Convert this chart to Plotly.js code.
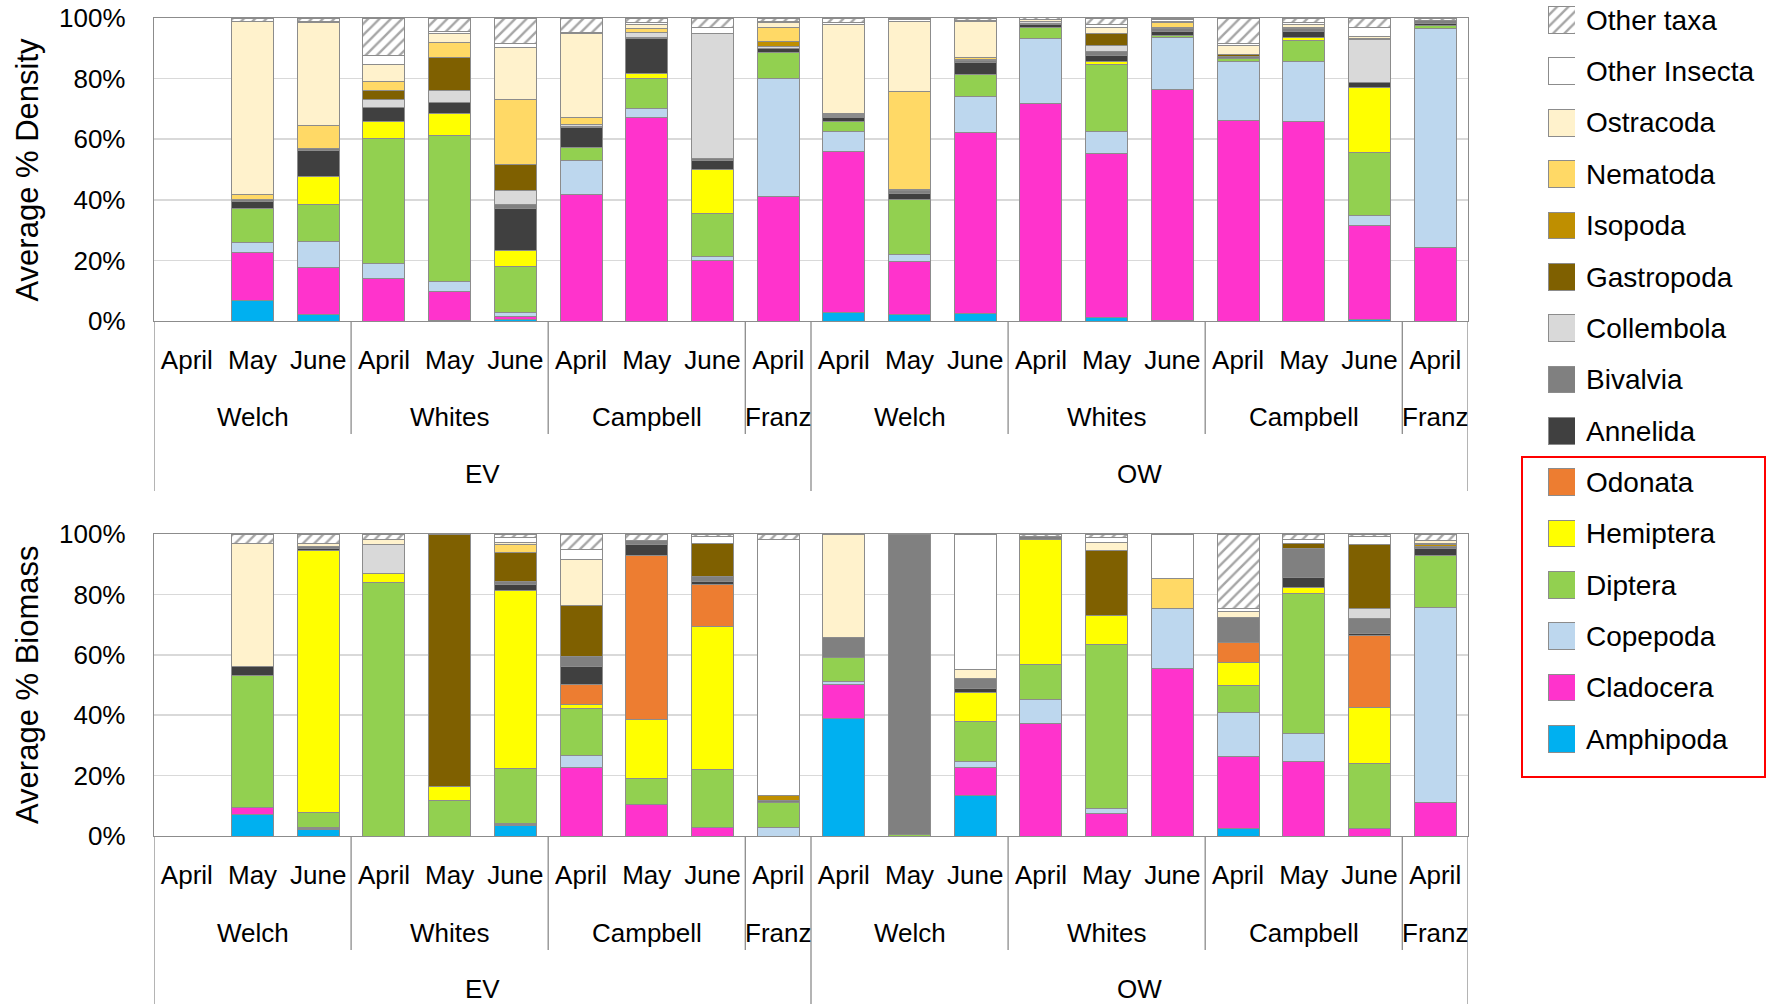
<!DOCTYPE html>
<html>
<head>
<meta charset="utf-8">
<script src="https://cdn.plot.ly/plotly-3.0.1.min.js"></script>
<style>
  html, body { margin: 0; padding: 0; background: #ffffff; }
  #chart { width: 1773px; height: 1004px; }
</style>
</head>
<body>
<div id="chart"></div>
<script>
// ---- categories ----------------------------------------------------------
const months = ['April', 'May', 'June', 'April', 'May', 'June', 'April', 'May', 'June', 'April',
                'April', 'May', 'June', 'April', 'May', 'June', 'April', 'May', 'June', 'April'];
const sites = ['Welch', 'Whites', 'Campbell', 'Franz', 'Welch', 'Whites', 'Campbell', 'Franz'];
const siteSpans = [3, 3, 3, 1, 3, 3, 3, 1];
const regions = ['EV', 'OW'];
const regionSpans = [10, 10];

// stacking order, bottom to top
const taxa = ['Amphipoda', 'Cladocera', 'Copepoda', 'Diptera', 'Hemiptera', 'Odonata', 'Annelida',
              'Bivalvia', 'Collembola', 'Gastropoda', 'Isopoda', 'Nematoda', 'Ostracoda',
              'Other Insecta', 'Other taxa'];
const taxaColors = ['#00B0F0', '#FF33CC', '#BDD7EE', '#92D050', '#FFFF00', '#ED7D31', '#404040',
                    '#808080', '#D9D9D9', '#7F6000', '#BF8F00', '#FFD966', '#FFF2CC',
                    '#FFFFFF', '#FFFFFF'];

// ---- average % density -----------------------------------------------------
const densityAmphipoda    = [0, 6.7, 2.0, 0, 0.3, 0.5, 0, 0, 0, 0,   2.7, 2.0, 2.5, 0, 1.2, 0.3, 0, 0, 0.5, 0];
const densityCladocera    = [0, 15.9, 15.7, 14.1, 9.5, 0.9, 41.9, 67.1, 19.9, 41.0,   53.1, 17.5, 59.6, 71.8, 54.1, 76.2, 66.3, 65.9, 31.1, 24.3];
const densityCopepoda     = [0, 3.2, 8.6, 4.8, 3.4, 1.5, 11.1, 3.0, 1.4, 39.1,   6.6, 2.6, 12.1, 21.4, 7.4, 17.0, 19.5, 19.8, 3.1, 72.4];
const densityDiptera      = [0, 11.3, 12.3, 41.4, 48.0, 15.2, 4.4, 10.0, 14.1, 8.4,   3.5, 18.0, 7.0, 3.6, 21.9, 0.6, 0.7, 6.9, 20.9, 0.9];
const densityHemiptera    = [0, 0, 9.2, 5.7, 7.3, 5.1, 0, 1.5, 14.6, 0,   0, 0, 0, 0, 1.2, 0, 0, 1.1, 21.3, 0];
const densityOdonata      = [0, 0, 0, 0, 0, 0, 0, 0, 0, 0,   0, 0, 0, 0, 0, 0, 0, 0, 0, 0];
const densityAnnelida     = [0, 2.5, 8.6, 4.4, 3.6, 13.9, 6.3, 11.6, 3.0, 1.6,   1.2, 2.0, 4.1, 1.0, 1.9, 1.5, 0.3, 1.9, 1.7, 0.6];
const densityBivalvia     = [0, 0.5, 0.4, 0, 0, 1.5, 0.5, 0.5, 0.5, 0,   0.5, 1.0, 0.7, 0.5, 1.3, 1.0, 0.6, 0.8, 0, 1.0];
const densityCollembola   = [0, 0, 0, 2.8, 3.9, 4.6, 0.5, 1.6, 41.4, 0.5,   0.3, 0, 0, 0.4, 2.0, 0.4, 0, 0, 14.4, 0];
const densityGastropoda   = [0, 0, 0, 2.8, 11.1, 8.6, 0, 0, 0, 0,   0.4, 0.4, 0.4, 0.3, 3.8, 0, 0.5, 0.3, 0.4, 0];
const densityIsopoda      = [0, 0, 0, 0, 0, 0, 0, 0, 0, 1.5,   0, 0, 0, 0, 0, 0, 0, 0, 0, 0];
const densityNematoda     = [0, 1.7, 7.8, 3.0, 4.8, 21.4, 2.4, 1.3, 0, 4.8,   0.3, 32.1, 0.7, 0, 0, 1.6, 0, 0.3, 0, 0];
const densityOstracoda    = [0, 57.2, 33.8, 5.6, 2.9, 17.0, 27.8, 1.1, 0, 1.5,   29.3, 23.4, 11.9, 0.4, 2.2, 0.4, 3.0, 1.0, 0.5, 0];
const densityOtherInsecta = [0, 0, 0.3, 3.0, 0.9, 1.3, 0.3, 0.8, 1.9, 0.6,   0.5, 0.5, 0.2, 0.2, 0.9, 0.4, 0.6, 0.5, 3.0, 0];
const densityOtherTaxa    = [0, 1.0, 1.3, 12.4, 4.3, 8.5, 4.8, 1.5, 3.2, 1.0,   1.6, 0.5, 0.8, 0.5, 2.1, 0.6, 8.5, 1.5, 3.1, 0.8];

// ---- average % biomass -----------------------------------------------------
const biomassAmphipoda    = [0, 7.2, 2.0, 0, 0, 3.4, 0, 0, 0, 0,   39.0, 0, 13.4, 0, 0, 0, 2.4, 0, 0, 0];
const biomassCladocera    = [0, 2.2, 0.5, 0, 0, 0.3, 22.7, 10.5, 2.9, 0,   11.2, 0, 9.4, 37.3, 7.5, 55.5, 23.8, 24.8, 2.5, 11.1];
const biomassCopepoda     = [0, 0, 0.4, 0, 0, 0.3, 3.9, 0, 0, 2.9,   1.1, 0, 2.0, 8.0, 1.7, 19.8, 14.7, 9.2, 0, 64.7];
const biomassDiptera      = [0, 43.9, 4.9, 84.0, 11.6, 18.4, 15.6, 8.4, 19.2, 8.2,   7.8, 0.5, 13.1, 11.5, 54.3, 0, 8.8, 46.2, 21.5, 17.2];
const biomassHemiptera    = [0, 0, 86.7, 3.0, 4.7, 58.8, 1.2, 19.7, 47.2, 0,   0, 0, 9.6, 41.5, 9.5, 0, 7.9, 2.0, 18.5, 0];
const biomassOdonata      = [0, 0, 0, 0, 0, 0, 6.7, 54.4, 14.0, 0,   0, 0, 0, 0, 0, 0, 6.6, 0, 23.8, 0];
const biomassAnnelida     = [0, 2.8, 0.8, 0, 0, 2.1, 5.9, 3.6, 0.9, 0,   0, 0, 1.4, 0, 0, 0, 0, 3.3, 0.8, 2.3];
const biomassBivalvia     = [0, 0, 0.4, 0, 0, 0.9, 3.6, 1.1, 1.7, 0.7,   6.6, 99.5, 3.3, 1.0, 0, 0, 8.2, 9.8, 4.8, 0.7];
const biomassCollembola   = [0, 0, 0, 9.6, 0, 0, 0, 0, 0, 0,   0, 0, 0, 0, 0, 0, 0, 0, 3.3, 0];
const biomassGastropoda   = [0, 0, 0, 0, 83.4, 9.6, 16.7, 0, 11.0, 0,   0, 0, 0, 0, 21.4, 0, 0, 1.5, 21.4, 0];
const biomassIsopoda      = [0, 0, 0, 0, 0, 0, 0, 0, 0, 1.5,   0, 0, 0, 0, 0, 0, 0, 0, 0, 0.5];
const biomassNematoda     = [0, 0, 0, 0, 0, 2.6, 0, 0, 0, 0,   0, 0, 0, 0, 0, 10.0, 0, 0, 0, 0.3];
const biomassOstracoda    = [0, 40.7, 1.0, 1.6, 0, 0.8, 15.3, 0, 0, 0,   34.3, 0, 3.0, 0, 2.7, 0, 1.9, 0, 0, 1.0];
const biomassOtherInsecta = [0, 0, 0, 0, 0, 1.6, 3.3, 0, 2.2, 85.0,   0, 0, 44.8, 0, 1.8, 14.7, 0.9, 1.5, 2.5, 0];
const biomassOtherTaxa    = [0, 3.2, 3.3, 1.8, 0.3, 1.2, 5.1, 2.3, 0.9, 1.7,   0, 0, 0, 0.7, 1.1, 0, 24.8, 1.7, 0.9, 2.2];

const densitySeries = [densityAmphipoda, densityCladocera, densityCopepoda, densityDiptera,
  densityHemiptera, densityOdonata, densityAnnelida, densityBivalvia, densityCollembola,
  densityGastropoda, densityIsopoda, densityNematoda, densityOstracoda, densityOtherInsecta,
  densityOtherTaxa];
const biomassSeries = [biomassAmphipoda, biomassCladocera, biomassCopepoda, biomassDiptera,
  biomassHemiptera, biomassOdonata, biomassAnnelida, biomassBivalvia, biomassCollembola,
  biomassGastropoda, biomassIsopoda, biomassNematoda, biomassOstracoda, biomassOtherInsecta,
  biomassOtherTaxa];

// ---- page geometry (pixels -> paper fractions) ------------------------------
const W = 1773, H = 1004;
const px = v => v / W;
const py = v => 1 - v / H;

const FONT = 'Liberation Sans, Arial, Helvetica, sans-serif';
const EDGE = '#8c8c8c';
const xDomain = [px(154), px(1468)];
const panels = [
  { series: densitySeries, title: 'Average % Density', top: 18, bottom: 321,
    siteY: 417, regionY: 474, siteLineEnd: 434, regionLineEnd: 491, xa: 'x', ya: 'y' },
  { series: biomassSeries, title: 'Average % Biomass', top: 534, bottom: 836,
    siteY: 933, regionY: 989, siteLineEnd: 950, regionLineEnd: 1004, xa: 'x2', ya: 'y2' }
];

const idx = months.map((m, i) => i);

function markerFor(i) {
  const m = { color: taxaColors[i], line: { color: EDGE, width: 1 } };
  if (taxa[i] === 'Other taxa') {
    m.pattern = { shape: '/', bgcolor: '#ffffff', fgcolor: '#a6a6a6', size: 8, solidity: 0.3 };
  }
  return m;
}

const traces = [];
panels.forEach(p => {
  p.series.forEach((vals, i) => {
    traces.push({
      type: 'bar', name: taxa[i], x: idx,
      y: vals.map(v => (v > 0 ? v : null)),
      xaxis: p.xa, yaxis: p.ya,
      marker: markerFor(i), showlegend: false,
      hovertemplate: '%{y:.1f}%<extra>' + taxa[i] + '</extra>'
    });
  });
});

// key: one square per taxon on its own small axis pair
taxa.forEach((t, i) => {
  traces.push({
    type: 'bar', orientation: 'h', x: [1], y: [i], base: 0, width: 0.52,
    xaxis: 'x3', yaxis: 'y3', marker: markerFor(i), showlegend: false, hoverinfo: 'skip'
  });
});

// boundaries and label centres along the category axis
function groups(spans) {
  const out = [];
  let start = 0;
  spans.forEach(s => { out.push({ lo: start - 0.5, hi: start + s - 0.5, mid: start + (s - 1) / 2 }); start += s; });
  return out;
}
const siteGroups = groups(siteSpans);
const regionGroups = groups(regionSpans);

const shapes = [];
const annotations = [];
panels.forEach(p => {
  const regionEdges = new Set();
  regionGroups.forEach(g => { regionEdges.add(g.lo); regionEdges.add(g.hi); });
  const siteEdges = new Set();
  siteGroups.forEach(g => { siteEdges.add(g.lo); siteEdges.add(g.hi); });
  siteEdges.forEach(e => {
    const end = regionEdges.has(e) ? p.regionLineEnd : p.siteLineEnd;
    shapes.push({ type: 'line', xref: p.xa, yref: 'paper', x0: e, x1: e,
      y0: py(p.bottom), y1: py(end), line: { color: EDGE, width: 1.3 } });
  });
  siteGroups.forEach((g, k) => annotations.push({
    xref: p.xa, yref: 'paper', x: g.mid, y: py(p.siteY), text: sites[k], showarrow: false,
    xanchor: 'center', yanchor: 'middle', font: { family: FONT, size: 26, color: '#000' } }));
  regionGroups.forEach((g, k) => annotations.push({
    xref: p.xa, yref: 'paper', x: g.mid, y: py(p.regionY), text: regions[k], showarrow: false,
    xanchor: 'center', yanchor: 'middle', font: { family: FONT, size: 26, color: '#000' } }));
  annotations.push({
    xref: 'paper', yref: 'paper', x: px(27), y: py((p.top + p.bottom) / 2), text: p.title,
    textangle: -90, showarrow: false, xanchor: 'center', yanchor: 'middle',
    font: { family: FONT, size: 31, color: '#000' } });
});

// red frame around the lower part of the key
shapes.push({ type: 'rect', xref: 'paper', yref: 'paper', x0: px(1522), x1: px(1765),
  y0: py(777), y1: py(457), line: { color: '#ff0000', width: 2 }, fillcolor: 'rgba(0,0,0,0)' });

function xAxis(anchor, p) {
  return {
    domain: xDomain, anchor: anchor, range: [-0.5, months.length - 0.5],
    tickmode: 'array', tickvals: idx, ticktext: months, ticks: '',
    tickfont: { family: FONT, size: 26, color: '#000' }, ticklabelstandoff: 15,
    showline: true, mirror: true, linecolor: EDGE, linewidth: 1.3,
    showgrid: false, zeroline: false, fixedrange: true
  };
}
function yAxis(anchor, p) {
  return {
    domain: [py(p.bottom), py(p.top)], anchor: anchor, range: [0, 100],
    tickmode: 'linear', tick0: 0, dtick: 20, ticksuffix: '%', ticks: '',
    tickfont: { family: FONT, size: 26, color: '#000' }, ticklabelstandoff: 22,
    showgrid: true, gridcolor: '#d9d9d9', gridwidth: 1.5,
    showline: true, mirror: true, linecolor: EDGE, linewidth: 1.3,
    zeroline: false, fixedrange: true
  };
}

// key axes: 1 row = 51.36 px, Amphipoda row centred at y = 739 px
const rowPx = 51.36;
const keyBottom = 739 + 0.5 * rowPx;
const keyTop = 739 - 14.3 * rowPx;

const layout = {
  width: W, height: H,
  margin: { l: 0, r: 0, t: 0, b: 0, pad: 0 },
  paper_bgcolor: '#ffffff', plot_bgcolor: '#ffffff',
  font: { family: FONT, color: '#000' },
  barmode: 'stack', bargap: 0.36,
  showlegend: false,
  xaxis: xAxis('y', panels[0]),
  yaxis: yAxis('x', panels[0]),
  xaxis2: xAxis('y2', panels[1]),
  yaxis2: yAxis('x2', panels[1]),
  xaxis3: { domain: [px(1548), px(1575)], anchor: 'y3', range: [0, 1], visible: false, fixedrange: true },
  yaxis3: {
    domain: [py(keyBottom), py(keyTop)], anchor: 'x3', range: [-0.5, 14.3], side: 'right',
    tickmode: 'array', tickvals: taxa.map((t, i) => i), ticktext: taxa, ticks: '',
    tickfont: { family: FONT, size: 28, color: '#000' }, ticklabelstandoff: 10,
    showgrid: false, showline: false, zeroline: false, fixedrange: true
  },
  shapes: shapes,
  annotations: annotations
};

Plotly.newPlot('chart', traces, layout, { staticPlot: true, displayModeBar: false });
</script>
</body>
</html>
